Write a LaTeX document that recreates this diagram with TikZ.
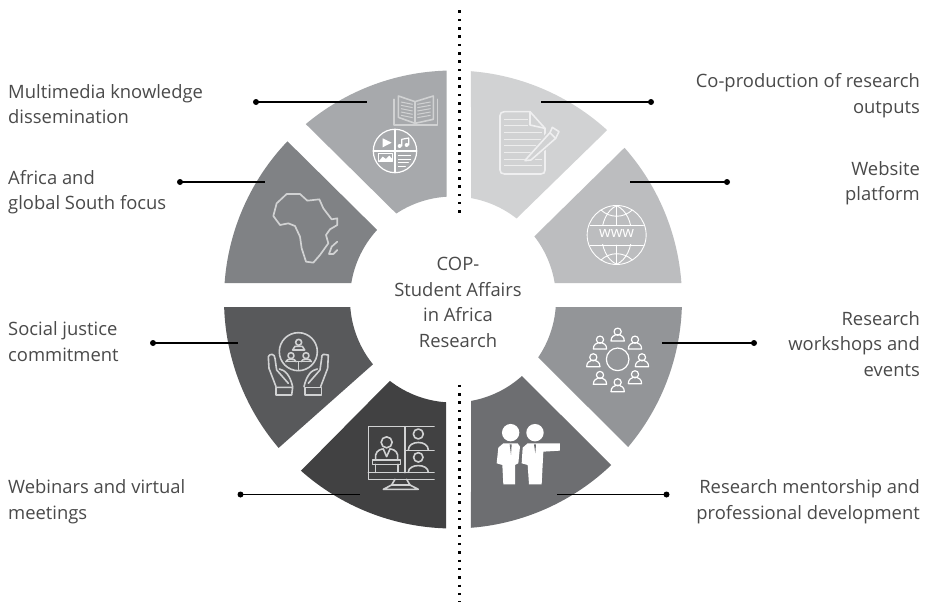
\documentclass[tikz,border=0pt]{standalone}
\usepackage{fontspec}
\setmainfont{Open Sans}
\definecolor{txt}{HTML}{4A4A4A}
\definecolor{segA}{HTML}{D1D2D3}
\definecolor{segB}{HTML}{BCBDBF}
\definecolor{segC}{HTML}{939598}
\definecolor{segD}{HTML}{6D6E71}
\definecolor{segE}{HTML}{414142}
\definecolor{segF}{HTML}{58595B}
\definecolor{segG}{HTML}{808285}
\definecolor{segH}{HTML}{A7A9AC}
\tikzset{
  lab/.style={font=\fontsize{18.4}{25.5}\selectfont,text=txt,inner sep=0pt},
  labL/.style={lab,anchor=west,align=left},
  labR/.style={lab,anchor=east,align=right},
  dotend/.style={circle,fill=black,inner sep=0pt,minimum size=6pt},
  leader/.style={draw=black,line width=1.1pt},
  dotted line/.style={draw=black,line width=2.4pt,dash pattern=on 2.4pt off 5.93pt},
  ic/.style={draw=white,line width=1.2pt,line join=round,line cap=round},
  icg/.style={draw=#1,line width=1.6pt,line join=round,line cap=round},
  z3/.style={x=0.3333pt,y=-0.3333pt},
}
\newcommand{\seg}[5]{\fill[#1] (#2:229) arc[start angle=#2,end angle=#3,radius=229] -- (#4:103) arc[start angle=#4,end angle=#5,radius=103] -- cycle;}
\newcommand{\person}[2]{%
  \draw[ic] (#1,#2-8) circle[radius=3.6pt];
  \draw[ic] (#1-20,#2+20) .. controls (#1-20,#2+6) and (#1-10,#2+3) .. (#1-5,#2+1) -- (#1+5,#2+1) .. controls (#1+10,#2+3) and (#1+20,#2+6) .. (#1+20,#2+20) -- cycle;}
\begin{document}
\begin{tikzpicture}[x=1pt,y=-1pt]
\path[use as bounding box,fill=white] (0,0) rectangle (926,602);
% ring
\begin{scope}[shift={(453,299.5)},y=1pt]
\seg{segA}{85.5}{47.7}{51.9}{79.9}
\seg{segB}{41.5}{4.13}{9.2}{37.8}
\seg{segC}{-1.88}{-40.1}{-34.2}{-4.18}
\seg{segD}{-46.3}{-85.5}{-79.9}{-48}
\seg{segE}{-131.6}{-91.75}{-93.9}{-127.8}
\seg{segF}{-178.1}{-139.6}{-141}{-175.8}
\seg{segG}{136.3}{175.9}{170.8}{137.5}
\seg{segH}{91.6}{130}{123.4}{93.6}
\end{scope}
% dotted axis
\coordinate (axA) at (459.5,10.5);
\coordinate (axB) at (459.5,216);
\coordinate (axC) at (459.5,384.8);
\coordinate (axD) at (459.5,602);
\draw[dotted line] (axA) -- (axB);
\draw[dotted line] (axC) -- (axD);
% --- book + media (z3 origin 300,60)
\begin{scope}[shift={(300,60)},z3]
\draw[icg=segA] (282,118) -- (282,195) -- (412,195) -- (412,118);
\draw[icg=segA] (295,108) -- (345,125) -- (400,108) -- (400,178) -- (345,190) -- (295,172) -- cycle;
\draw[icg=segA] (345,125) -- (345,190);
\foreach \yy in {126,136,146,156,166}{
  \draw[segA,line width=1pt] (303,\yy) -- (338,\yy+7);
  \draw[segA,line width=1pt] (392,\yy) -- (352,\yy+7);}
\draw[ic] (285,273) circle[radius=21.7pt];
\draw[ic] (285,208) -- (285,338);
\draw[ic] (220,273) -- (350,273);
\fill[white] (248,235) -- (248,262) -- (275,248) -- cycle;
\draw[ic] (305,258) -- (305,238) -- (326,234) -- (326,255);
\fill[white] (299,258) circle[radius=2pt] (320,255) circle[radius=2pt];
\draw[ic,line width=.9pt] (235,280) rectangle (278,305);
\fill[white] (237,303) -- (248,290) -- (258,297) -- (268,287) -- (276,296) -- (276,303) -- cycle;
\draw[ic,line width=.9pt] (295,285) -- (332,285);
\draw[ic,line width=.9pt] (295,297) -- (332,297);
\draw[ic,line width=.9pt] (295,308) -- (325,308);
\draw[ic,line width=.9pt] (295,320) -- (316,320);
\end{scope}
% --- document + globe (origin 465,60)
\begin{scope}[shift={(465,60)},z3]
\draw[icg=segA!35!white] (118,155) -- (195,155) -- (240,205) -- (240,330) .. controls (240,338) and (236,342) .. (228,342) -- (118,342) .. controls (110,342) and (105,338) .. (105,330) -- (105,167) .. controls (105,160) and (110,155) .. (118,155) -- cycle;
\draw[icg=segA!35!white] (195,155) -- (195,195) -- (240,205);
\foreach \yy in {178,198}{
  \draw[segA!40!white,line width=1pt] (118,\yy) -- (188,\yy);}
\foreach \yy in {218,238,258,278,298,318}{
  \draw[segA!40!white,line width=1pt] (118,\yy) -- (230,\yy);}
\fill[segA] (175,305) -- (255,205) -- (290,225) -- (195,312) -- cycle;
\draw[icg=segA!35!white] (183,298) -- (255,218) -- (272,235) -- (198,300) -- (180,302) -- cycle;
\draw[icg=segA!35!white] (255,218) -- (262,202) -- (282,215) -- (272,235);
% globe
\draw[ic,line width=.9pt] (455,525) circle[radius=29.5pt];
\draw[ic,line width=.9pt] (455,437) -- (455,495) (455,555) -- (455,613);
\draw[ic,line width=.9pt] (375,495) -- (535,495) (375,555) -- (535,555);
\draw[ic,line width=.9pt] (455,437) .. controls (395,465) and (395,585) .. (455,613);
\draw[ic,line width=.9pt] (455,437) .. controls (515,465) and (515,585) .. (455,613);
\draw[ic,line width=.9pt] (408,450) .. controls (435,475) and (475,475) .. (502,450);
\draw[ic,line width=.9pt] (408,600) .. controls (435,575) and (475,575) .. (502,600);
\fill[segB] (372,498) rectangle (538,552);
\node[text=white,font=\fontsize{15}{15}\selectfont,inner sep=0pt] (wwwtxt) at (455,522) {www};
\end{scope}
% --- Africa (origin 220,140)
\begin{scope}[shift={(220,140)},z3]
\draw[icg=segA,line width=1.7pt] (200,162) -- (240,162) -- (262,182) -- (298,178) -- (310,205) -- (335,238) -- (352,235) -- (352,255) -- (330,268) -- (318,285) -- (325,310) -- (300,345) -- (280,368) -- (258,365) -- (245,325) -- (240,290) -- (225,258) -- (205,250) -- (180,255) -- (160,228) -- (170,190) -- cycle;
\draw[icg=segA,line width=1.7pt] (352,305) -- (335,320) -- (327,342) -- (340,342) -- (352,330);
\end{scope}
% --- hands + monitor (origin 220,305)
\begin{scope}[shift={(220,305)},z3]
\begin{scope}[every path/.style={icg=segA}]
% hands
\draw (235,140) circle[radius=19pt];
\draw (236,112) circle[radius=3pt] (213,152) circle[radius=3pt] (258,152) circle[radius=3pt];
\draw (218,135) -- (225,124) -- (247,124) -- (254,135) -- cycle;
\draw (198,170) .. controls (198,160) and (228,160) .. (228,170);
\draw (244,170) .. controls (244,160) and (274,160) .. (274,170);
\draw (198,170) -- (274,170);
\draw (235,170) -- (235,196);
\draw (168,270) -- (215,270) -- (218,247) -- (168,247) -- cycle;
\draw (168,245) -- (147,190) -- (145,155) .. controls (148,145) and (165,145) .. (165,160) -- (170,195) -- (205,235);
\draw (178,192) .. controls (195,195) and (210,210) .. (218,245);
\draw (255,270) -- (305,270) -- (305,247) -- (255,247) -- cycle;
\draw (302,245) -- (323,190) -- (325,150) -- (310,148) .. controls (305,150) and (305,155) .. (305,160) -- (300,195) -- (265,235);
\draw (292,192) .. controls (275,195) and (260,210) .. (252,245);
% monitor
\draw (642,365) -- (445,365) -- (445,523) -- (642,523);
\draw (445,503) -- (642,503);
\draw (555,365) -- (555,503);
\draw (555,437) -- (642,437);
\draw (525,523) -- (515,540) -- (490,553) -- (595,553) -- (570,540) -- (560,523);
\draw (515,540) -- (570,540);
\draw (500,412) circle[radius=5.5pt];
\draw (467,465) -- (467,450) .. controls (470,435) and (485,432) .. (490,432);
\draw (533,465) -- (533,450) .. controls (530,435) and (515,432) .. (510,432);
\draw (490,432) -- (500,455) -- (510,432);
\draw (458,465) -- (542,465) -- (542,478) -- (458,478) -- cycle;
\draw (466,478) -- (466,502) (534,478) -- (534,502);
\draw (595,387) circle[radius=5pt];
\draw (565,435) .. controls (565,405) and (625,405) .. (625,435);
\draw (595,457) circle[radius=4.7pt];
\draw (565,502) .. controls (565,475) and (625,475) .. (625,502);
\end{scope}
\end{scope}
% --- people round table (origin 465,305)
\begin{scope}[shift={(465,305)},z3]
\draw[ic] (458,163) circle[radius=11.3pt];
\person{458}{88}
\person{405}{112}
\person{510}{112}
\person{385}{165}
\person{531}{165}
\person{405}{218}
\person{510}{216}
\person{458}{240}
% businessmen
\fill[white] (137,383) circle[radius=8.7pt] (210,383) circle[radius=8.7pt];
\fill[white] (115,415) -- (158,415) -- (165,425) -- (160,475) -- (150,480) -- (150,538) -- (115,538) -- (112,480) -- (95,475) -- (100,428) -- cycle;
\fill[white] (188,415) -- (232,415) -- (285,415) -- (285,437) -- (235,440) -- (230,538) -- (192,538) -- (188,480) -- (170,475) -- (173,428) -- cycle;
\fill[segD] (134,418) -- (140,418) -- (138,450) -- cycle;
\fill[segD] (207,418) -- (213,418) -- (211,445) -- cycle;
\end{scope}
% centre
\node[lab,align=center] (hub) at (458,302.5) {COP-\\Student Affairs\\in Africa\\Research};
% labels
\node[labL] (l1) at (8,104) {Multimedia knowledge\\dissemination};
\node[labL] (l2) at (8,192) {Africa and\\global South focus};
\node[labL] (l3) at (8,341.5) {Social justice\\commitment};
\node[labL] (l4) at (8,501.5) {Webinars and virtual\\meetings};
\node[labR] (r1) at (920,95.5) {Co-production of research\\outputs};
\node[labR] (r2) at (920,183) {Website\\platform};
\node[labR] (r3) at (920,344) {Research\\workshops and\\events};
\node[labR] (r4) at (920,501.5) {Research mentorship and\\professional development};
% leaders
\node[dotend] (dl1) at (256,102) {};  \coordinate (el1) at (367,102);
\node[dotend] (dl2) at (180,182) {};  \coordinate (el2) at (264.5,182);
\node[dotend] (dl3) at (153,343) {};  \coordinate (el3) at (238,343);
\node[dotend] (dl4) at (240.5,494.5) {}; \coordinate (el4) at (360,494.5);
\node[dotend] (dr1) at (651,102) {};  \coordinate (er1) at (541,102);
\node[dotend] (dr2) at (727,182) {};  \coordinate (er2) at (630,182);
\node[dotend] (dr3) at (754,343) {};  \coordinate (er3) at (662,343);
\node[dotend] (dr4) at (666.5,494.5) {}; \coordinate (er4) at (557,494.5);
\foreach \a/\b in {dl1/el1,dl2/el2,dl3/el3,dl4/el4,dr1/er1,dr2/er2,dr3/er3,dr4/er4}
  \draw[leader] (\a.center) -- (\b);
\end{tikzpicture}
\end{document}
